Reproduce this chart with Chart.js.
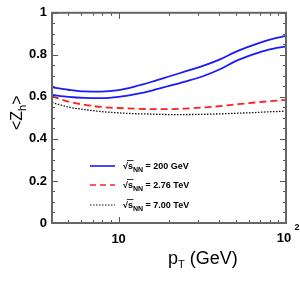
<!DOCTYPE html>
<html>
<head>
<meta charset="utf-8">
<script src="https://cdn.jsdelivr.net/npm/chart.js@4/dist/chart.umd.min.js"></script>
<style>
html, body { margin: 0; padding: 0; background: #fff; }
#wrap { width: 300px; height: 281px; position: relative; }
</style>
</head>
<body>
<div id="wrap"><canvas id="myChart" width="300" height="281"></canvas></div>
<script>
// pT values (GeV) and <z_h> curves
var ptVals = [4, 5, 6.3, 7.9, 10, 12.6, 15.8, 20, 25, 31.6, 40, 50, 63, 79, 100];
var rhicUpper = [0.645, 0.634, 0.626, 0.625, 0.632, 0.650, 0.672, 0.697, 0.721, 0.746, 0.777, 0.814, 0.845, 0.871, 0.890];
var rhicLower = [0.609, 0.600, 0.595, 0.594, 0.600, 0.613, 0.630, 0.652, 0.673, 0.697, 0.730, 0.770, 0.801, 0.825, 0.840];
var lhc276 = [0.603, 0.578, 0.562, 0.552, 0.547, 0.544, 0.542, 0.542, 0.544, 0.549, 0.556, 0.564, 0.572, 0.579, 0.586];
var lhc700 = [0.573, 0.552, 0.539, 0.530, 0.524, 0.520, 0.518, 0.516, 0.516, 0.517, 0.519, 0.522, 0.525, 0.529, 0.532];
var yTickVals = [0, 0.2, 0.4, 0.6, 0.8, 1];
var legendLabels = ['200 GeV', '2.76 TeV', '7.00 TeV'];

function pts(arr) {
    return ptVals.map(function(p, i) { return {x: p, y: arr[i]}; });
}

var blue = '#1a1aff';
var red = '#ff2020';
var black = '#111111';

var framePlugin = {
    id: 'framePlugin',
    afterDraw: function(chart) {
        var ctx = chart.ctx;
        var a = chart.chartArea;
        var xs = chart.scales.x;
        var ys = chart.scales.y;
        ctx.save();
        // ticks
        ctx.strokeStyle = '#555';
        ctx.lineWidth = 1;
        ctx.beginPath();
        for (var v = 0; v <= 1.0001; v += 0.05) {
            var py = Math.round(ys.getPixelForValue(v)) + 0.5;
            var major = Math.abs(v * 5 - Math.round(v * 5)) < 1e-6;
            var len = major ? 6 : 3;
            ctx.moveTo(a.left, py); ctx.lineTo(a.left + len, py);
            ctx.moveTo(a.right, py); ctx.lineTo(a.right - len, py);
        }
        for (var d = 1; d <= 10; d *= 10) {
            for (var m = 1; m <= 9; m++) {
                var xv = m * d;
                if (xv < 4 || xv > 100) continue;
                var px = Math.round(xs.getPixelForValue(xv)) + 0.5;
                var len2 = (m === 1) ? 6 : 3;
                ctx.moveTo(px, a.bottom); ctx.lineTo(px, a.bottom - len2);
                ctx.moveTo(px, a.top); ctx.lineTo(px, a.top + len2);
            }
        }
        ctx.stroke();
        // frame
        ctx.strokeStyle = '#666';
        ctx.lineWidth = 2;
        ctx.strokeRect(a.left, a.top, a.right - a.left, a.bottom - a.top);

        // 10^2 label
        ctx.fillStyle = '#000';
        ctx.font = 'bold 13px "Liberation Sans", Arial, sans-serif';
        ctx.textAlign = 'center';
        ctx.textBaseline = 'middle';
        var p100 = xs.getPixelForValue(100);
        ctx.fillText('10', p100 - 2, a.bottom + 15);
        ctx.font = 'bold 9px "Liberation Sans", Arial, sans-serif';
        ctx.fillText('2', p100 + 11, a.bottom + 5);

        // axis titles
        ctx.font = '18px "Liberation Sans", Arial, sans-serif';
        ctx.textAlign = 'left';
        ctx.textBaseline = 'alphabetic';
        var tx = 168;
        ctx.fillText('p', tx, 264);
        tx += ctx.measureText('p').width;
        ctx.font = '11px "Liberation Sans", Arial, sans-serif';
        ctx.fillText('T', tx, 268);
        tx += ctx.measureText('T').width;
        ctx.font = '18px "Liberation Sans", Arial, sans-serif';
        ctx.fillText(' (GeV)', tx, 264);

        ctx.save();
        ctx.translate(22, 130);
        ctx.rotate(-Math.PI / 2);
        ctx.font = '16px "Liberation Sans", Arial, sans-serif';
        var ty = 0;
        ctx.fillText('<Z', ty, 0);
        ty += ctx.measureText('<Z').width;
        ctx.font = '11px "Liberation Sans", Arial, sans-serif';
        ctx.fillText('h', ty, 4);
        ty += ctx.measureText('h').width;
        ctx.font = '16px "Liberation Sans", Arial, sans-serif';
        ctx.fillText('>', ty, 0);
        ctx.restore();

        // legend
        var styles = [
            {color: blue, dash: [], w: 1.6},
            {color: red, dash: [6, 4], w: 1.6},
            {color: black, dash: [1.5, 1.5], w: 1.2}
        ];
        var rows = [166, 185, 205];
        for (var i = 0; i < 3; i++) {
            var ly = rows[i];
            ctx.strokeStyle = styles[i].color;
            ctx.lineWidth = styles[i].w;
            ctx.setLineDash(styles[i].dash);
            ctx.beginPath();
            ctx.moveTo(90, ly); ctx.lineTo(115, ly);
            ctx.stroke();
            ctx.setLineDash([]);
            ctx.fillStyle = '#000';
            var lx = 123;
            ctx.font = 'bold 9px "Liberation Sans", Arial, sans-serif';
            ctx.textBaseline = 'alphabetic';
            ctx.fillText('\u221A', lx, ly + 3);
            lx += ctx.measureText('\u221A').width;
            ctx.fillText('s', lx, ly + 3);
            var sw = ctx.measureText('s').width;
            ctx.strokeStyle = '#000';
            ctx.lineWidth = 0.8;
            ctx.beginPath();
            ctx.moveTo(lx - 1, ly - 5.5); ctx.lineTo(lx + sw + 0.5, ly - 5.5);
            ctx.stroke();
            lx += sw;
            ctx.font = 'bold 7px "Liberation Sans", Arial, sans-serif';
            ctx.fillText('NN', lx, ly + 6);
            lx += ctx.measureText('NN').width;
            ctx.font = 'bold 9px "Liberation Sans", Arial, sans-serif';
            ctx.fillText(' = ' + legendLabels[i], lx, ly + 3);
        }
        ctx.restore();
    }
};

const ctx = document.getElementById('myChart');
var myChart = new Chart(ctx, {
    type: 'line',
    data: {
        datasets: [
            {data: pts(rhicUpper), borderColor: blue, borderWidth: 1.8},
            {data: pts(rhicLower), borderColor: blue, borderWidth: 1.8},
            {data: pts(lhc276), borderColor: red, borderWidth: 1.8, borderDash: [7, 4]},
            {data: pts(lhc700), borderColor: black, borderWidth: 1.3, borderDash: [1.5, 1.5]}
        ]
    },
    options: {
        responsive: false,
        animation: false,
        layout: {padding: {top: 4, right: 14, left: 0, bottom: 0}},
        elements: {
            point: {radius: 0},
            line: {cubicInterpolationMode: 'monotone', fill: false}
        },
        plugins: {legend: {display: false}, tooltip: {enabled: false}},
        scales: {
            x: {
                type: 'logarithmic',
                min: 4,
                max: 100,
                grid: {display: false, drawTicks: false},
                border: {display: false},
                afterBuildTicks: function(s) { s.ticks = [{value: 10}]; },
                afterFit: function(s) { s.height = 58; },
                ticks: {
                    padding: 9,
                    color: '#000',
                    maxRotation: 0,
                    font: {family: '"Liberation Sans", Arial, sans-serif', size: 13, weight: 'bold'},
                    callback: function(v) { return v === 10 ? '10' : ''; }
                }
            },
            y: {
                min: 0,
                max: 1,
                grid: {display: false, drawTicks: false},
                border: {display: false},
                afterBuildTicks: function(s) { s.ticks = yTickVals.map(function(v) { return {value: v}; }); },
                afterFit: function(s) { s.width = 52; },
                ticks: {
                    padding: 5,
                    color: '#000',
                    font: {family: '"Liberation Sans", Arial, sans-serif', size: 13, weight: 'bold'},
                    callback: function(v) { return String(Math.round(v * 10) / 10); }
                }
            }
        }
    },
    plugins: [framePlugin]
});
</script>
</body>
</html>
